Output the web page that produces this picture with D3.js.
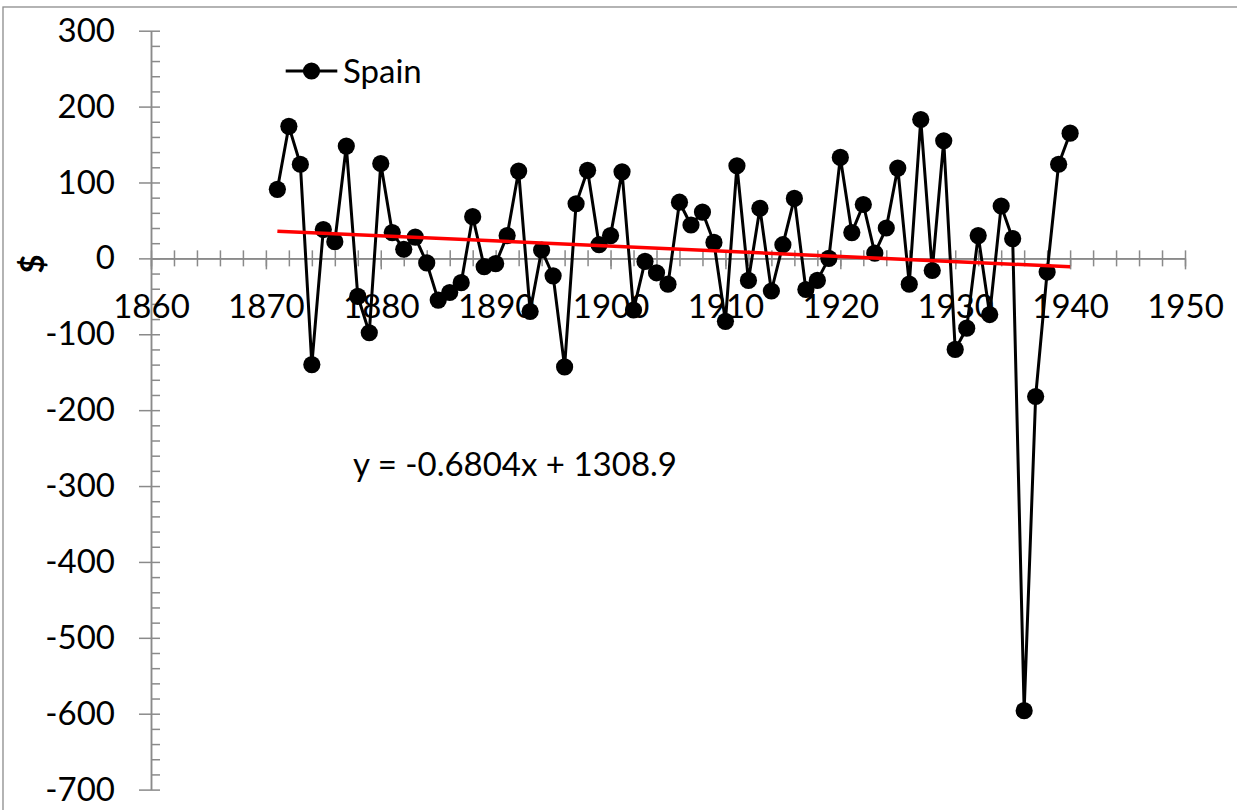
<!DOCTYPE html>
<html>
<head>
<meta charset="utf-8">
<script src="https://cdn.jsdelivr.net/npm/d3@7"></script>
<style>
  html, body { margin: 0; padding: 0; background: #fff; }
  svg { display: block; }
  text { font-family: Lato, "Open Sans", sans-serif; fill: #000; }
</style>
</head>
<body>
<svg id="chart" width="1237" height="810"></svg>
<script>
const seriesName = "Spain";
const years = [1871,1872,1873,1874,1875,1876,1877,1878,1879,1880,
  1881,1882,1883,1884,1885,1886,1887,1888,1889,1890,
  1891,1892,1893,1894,1895,1896,1897,1898,1899,1900,
  1901,1902,1903,1904,1905,1906,1907,1908,1909,1910,
  1911,1912,1913,1914,1915,1916,1917,1918,1919,1920,
  1921,1922,1923,1924,1925,1926,1927,1928,1929,1930,
  1931,1932,1933,1934,1935,1936,1937,1938,1939,1940];
const values = [91,174,124,-140,38,22,148,-50,-98,125,
  34,12,28,-6,-55,-45,-32,55,-11,-7,
  30,115,-70,11,-23,-143,72,116,18,30,
  114,-68,-4,-19,-34,74,44,61,21,-83,
  122,-29,66,-43,18,79,-41,-29,0,133,
  34,71,7,40,119,-34,183,-16,155,-120,
  -92,30,-74,69,26,-596,-182,-18,124,165];
const trendSlope = -0.6804;
const trendIntercept = 1308.9;
const trendLabel = "y = -0.6804x + 1308.9";
const yAxisTitle = "$";
const xMajorTicks = [1860,1870,1880,1890,1900,1910,1920,1930,1940,1950];
const yMajorTicks = [300,200,100,0,-100,-200,-300,-400,-500,-600,-700];

const svg = d3.select("#chart");
const FONT = 33;

// chart area border
svg.append("rect").attr("x", 3).attr("y", 7).attr("width", 1400).attr("height", 1000)
  .attr("fill", "none").attr("stroke", "#8c8c8c").attr("stroke-width", 1.3);

const x = d3.scaleLinear().domain([1860, 1950]).range([151, 1185]);
const y = d3.scaleLinear().domain([-700, 300]).range([789.6, 30.7]);

const axisColor = "#8a8a8a";
function styleAxis(g) {
  g.selectAll("path.domain").attr("stroke", axisColor).attr("stroke-width", 1.5);
  g.selectAll(".tick line").attr("stroke", axisColor).attr("stroke-width", 1.5);
  g.selectAll("text").style("font-size", FONT + "px").attr("fill", "#000");
}
const plain = d => String(d);

// Y axis: minor ticks inside (right), major crossing
const yMinor = d3.range(-700, 301, 20);
const gyMinor = svg.append("g").attr("transform", `translate(${x(1860)},0)`)
  .call(d3.axisRight(y).tickValues(yMinor).tickSize(9).tickSizeOuter(0).tickFormat(""));
styleAxis(gyMinor);
const gy = svg.append("g").attr("transform", `translate(${x(1860)},0)`)
  .call(d3.axisLeft(y).tickValues(yMajorTicks).tickSize(12).tickSizeOuter(0).tickPadding(24).tickFormat(plain));
styleAxis(gy);

// X axis at y=0
const xMinor = d3.range(1860, 1951, 2);
const gxTop = svg.append("g").attr("transform", `translate(0,${y(0)})`)
  .call(d3.axisTop(x).tickValues(xMinor).tickSize(8).tickSizeOuter(0).tickFormat(""));
styleAxis(gxTop);
const gxMin = svg.append("g").attr("transform", `translate(0,${y(0)})`)
  .call(d3.axisBottom(x).tickValues(xMinor).tickSize(8).tickSizeOuter(0).tickFormat(""));
styleAxis(gxMin);
const gx = svg.append("g").attr("transform", `translate(0,${y(0)})`)
  .call(d3.axisBottom(x).tickValues(xMajorTicks).tickSize(11).tickSizeOuter(0).tickPadding(25.5).tickFormat(plain));
styleAxis(gx);

// Y axis title
svg.append("text").attr("transform", "translate(32,264) rotate(-90)")
  .attr("text-anchor", "middle").attr("dy", "0.35em")
  .style("font-size", FONT + "px").style("font-weight", "bold").text(yAxisTitle);

// Series line
const data = years.map((yr, i) => ({ yr, v: values[i] }));
const line = d3.line().x(d => x(d.yr)).y(d => y(d.v));
svg.append("path").datum(data).attr("d", line)
  .attr("fill", "none").attr("stroke", "#000").attr("stroke-width", 3).attr("stroke-linejoin", "round");
svg.append("g").selectAll("circle").data(data).join("circle")
  .attr("cx", d => x(d.yr)).attr("cy", d => y(d.v)).attr("r", 8.6).attr("fill", "#000");

// Trendline
const tYears = [years[0], years[years.length - 1]];
svg.append("line")
  .attr("x1", x(tYears[0])).attr("y1", y(trendSlope * tYears[0] + trendIntercept))
  .attr("x2", x(tYears[1])).attr("y2", y(trendSlope * tYears[1] + trendIntercept))
  .attr("stroke", "#ff0000").attr("stroke-width", 3.5);

// Trend equation
svg.append("text").attr("x", 353).attr("y", 476).style("font-size", FONT + "px").text(trendLabel);

// Legend
svg.append("line").attr("x1", 285.7).attr("x2", 337.3).attr("y1", 71).attr("y2", 71)
  .attr("stroke", "#000").attr("stroke-width", 3);
svg.append("circle").attr("cx", 311.5).attr("cy", 71).attr("r", 8.6).attr("fill", "#000");
svg.append("text").attr("x", 343).attr("y", 82.7).style("font-size", FONT + "px").text(seriesName);
</script>
</body>
</html>
